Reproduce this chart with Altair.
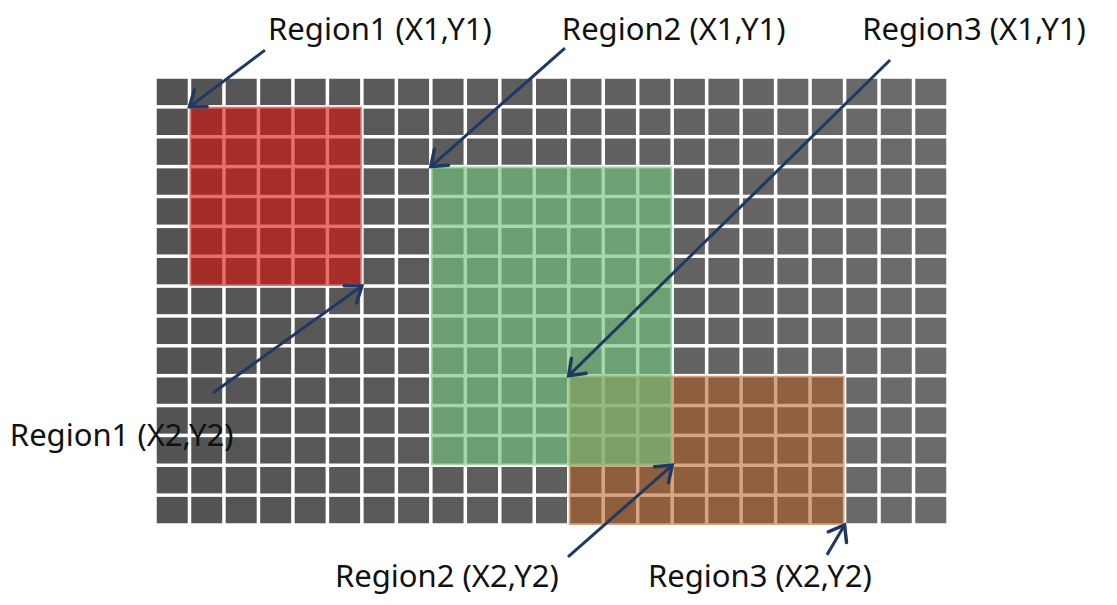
import math
import altair as alt
import pandas as pd

# ---- data ----
N_COLS = 23
N_ROWS = 15

region_names = ["Region1", "Region2", "Region3"]
region_x1 = [1, 8, 12]
region_y1 = [1, 3, 10]
region_x2 = [6, 15, 20]
region_y2 = [7, 13, 15]
region_colors = ["#da150b", "#73c37c", "#b45b1f"]
region_opacity = [0.61, 0.65, 0.55]
draw_order = [2, 1, 0]  # brown first, green above it, red

label_texts = [
    "Region1 (X1,Y1)", "Region2 (X1,Y1)", "Region3 (X1,Y1)",
    "Region1 (X2,Y2)", "Region2 (X2,Y2)", "Region3 (X2,Y2)",
]
label_x = [3.28, 11.80, 20.51, -4.21, 5.22, 14.30]
label_y = [-1.25, -1.25, -1.25, 12.35, 17.07, 17.07]  # text baselines

arrow_tail_x = [3.19, 11.89, 21.32, 1.68, 11.98, 19.49]
arrow_tail_y = [-0.90, -0.97, -0.57, 10.58, 16.07, 16.00]
arrow_head_x = [1, 8, 12, 6, 15, 20]
arrow_head_y = [1, 3, 10, 7, 13, 15]

# ---- layout ----
GW, GH = 793, 448          # grid size in px
OFF_X, OFF_Y = 147, 69     # grid offset inside the chart
CW, CH = 1101, 589         # whole chart
PX_X = GW / N_COLS
PX_Y = GH / N_ROWS
GAP = 1.75  # half white line, px
gx, gy = GAP / PX_X, GAP / PX_Y

xs = alt.Scale(domain=[-OFF_X / PX_X, (CW - OFF_X) / PX_X], nice=False, zero=False)
ys = alt.Scale(domain=[-OFF_Y / PX_Y, (CH - OFF_Y) / PX_Y], nice=False, zero=False, reverse=True)

grid = pd.DataFrame(
    [{"col": c, "row": r, "x": c + gx, "x2": c + 1 - gx, "y": r + gy, "y2": r + 1 - gy}
     for c in range(N_COLS) for r in range(N_ROWS)]
)

cells = alt.Chart(grid).mark_rect().encode(
    x=alt.X("x:Q", scale=xs, axis=None),
    x2="x2:Q",
    y=alt.Y("y:Q", scale=ys, axis=None),
    y2="y2:Q",
    color=alt.Color("col:Q", scale=alt.Scale(domain=[0, N_COLS - 1], range=["#535353", "#6b6b6b"]), legend=None),
)

regions = pd.DataFrame({
    "name": [region_names[i] for i in draw_order],
    "x1": [region_x1[i] for i in draw_order],
    "y1": [region_y1[i] for i in draw_order],
    "x2": [region_x2[i] for i in draw_order],
    "y2": [region_y2[i] for i in draw_order],
    "fill": [region_colors[i] for i in draw_order],
    "op": [region_opacity[i] for i in draw_order],
})

region_layers = []
for i in range(3):
    region_layers.append(
        alt.Chart(regions.iloc[[i]]).mark_rect().encode(
            x=alt.X("x1:Q", scale=xs, axis=None),
            x2="x2:Q",
            y=alt.Y("y1:Q", scale=ys, axis=None),
            y2="y2:Q",
            fill=alt.Fill("fill:N", scale=None),
            opacity=alt.Opacity("op:Q", scale=None),
        )
    )

ang = []
for tx, ty, hx, hy in zip(arrow_tail_x, arrow_tail_y, arrow_head_x, arrow_head_y):
    dx = (hx - tx) * PX_X
    dy = (hy - ty) * PX_Y
    ang.append(math.degrees(math.atan2(dy, dx)) % 360)

arrows = pd.DataFrame({
    "tx": arrow_tail_x, "ty": arrow_tail_y,
    "hx": arrow_head_x, "hy": arrow_head_y,
    "angle": ang,
})

ARROW = "#1f3864"
shafts = alt.Chart(arrows).mark_rule(color=ARROW, strokeWidth=3).encode(
    x=alt.X("tx:Q", scale=xs, axis=None),
    y=alt.Y("ty:Q", scale=ys, axis=None),
    x2="hx:Q",
    y2="hy:Q",
)

heads = alt.Chart(arrows).mark_point(
    shape="M -1 -0.75 L 0 0 L -1 0.75",
    filled=False,
    color=ARROW,
    strokeWidth=3.5,
    size=800,
    opacity=1,
    strokeCap="round",
    strokeJoin="miter",
).encode(
    x=alt.X("hx:Q", scale=xs, axis=None),
    y=alt.Y("hy:Q", scale=ys, axis=None),
    angle=alt.Angle("angle:Q", scale=None),
)

labels = pd.DataFrame({"text": label_texts, "x": label_x, "y": label_y})
texts = alt.Chart(labels).mark_text(
    align="left", baseline="alphabetic", font="Noto Sans", fontSize=31, color="#111111"
).encode(
    x=alt.X("x:Q", scale=xs, axis=None),
    y=alt.Y("y:Q", scale=ys, axis=None),
    text="text:N",
)

chart = alt.layer(cells, *region_layers, shafts, heads, texts).properties(
    width=CW,
    height=CH,
    autosize=alt.AutoSizeParams(type="none"),
    padding=0,
    background="white",
).configure_view(strokeWidth=0, stroke="transparent")

chart.save("out.html", embed_options={"renderer": "svg", "actions": False})
